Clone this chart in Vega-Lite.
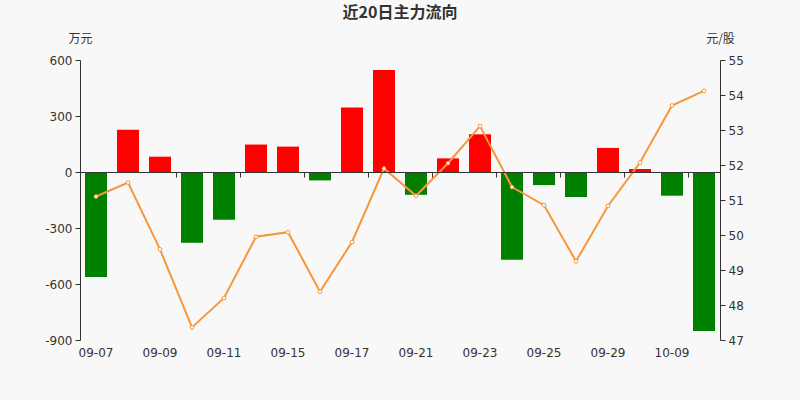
{
  "$schema": "https://vega.github.io/schema/vega-lite/v6.json",
  "width": 640,
  "height": 280,
  "autosize": {"type": "none"},
  "padding": {"left": 80, "top": 60, "right": 80, "bottom": 60},
  "background": "#f8f8f8",
  "title": {"text": "近20日主力流向", "font": "Noto Sans CJK SC", "fontSize": 16, "fontWeight": "bold", "color": "#333333", "anchor": "middle", "offset": 11},
  "config": {
    "view": {"stroke": null},
    "axis": {"labelFont": "DejaVu Sans", "labelFontSize": 12, "labelColor": "#333333", "domainColor": "#333333", "tickColor": "#333333", "grid": false, "titleFont": "Noto Sans CJK SC", "titleFontSize": 12, "titleFontWeight": "normal", "titleColor": "#333333"}
  },
  "data": {"values": [
    {"date": "09-07", "flow": -562, "price": 51.10},
    {"date": "09-08", "flow": 227, "price": 51.50},
    {"date": "09-09", "flow": 82, "price": 49.59},
    {"date": "09-10", "flow": -379, "price": 47.36},
    {"date": "09-11", "flow": -256, "price": 48.20},
    {"date": "09-14", "flow": 147, "price": 49.95},
    {"date": "09-15", "flow": 136, "price": 50.08},
    {"date": "09-16", "flow": -45, "price": 48.38},
    {"date": "09-17", "flow": 345, "price": 49.80},
    {"date": "09-18", "flow": 546, "price": 51.90},
    {"date": "09-21", "flow": -122, "price": 51.12},
    {"date": "09-22", "flow": 73, "price": 52.05},
    {"date": "09-23", "flow": 202, "price": 53.11},
    {"date": "09-24", "flow": -470, "price": 51.37},
    {"date": "09-25", "flow": -70, "price": 50.85},
    {"date": "09-28", "flow": -134, "price": 49.25},
    {"date": "09-29", "flow": 129, "price": 50.83},
    {"date": "09-30", "flow": 16, "price": 52.07},
    {"date": "10-09", "flow": -127, "price": 53.70},
    {"date": "10-10", "flow": -852, "price": 54.12}
  ]},
  "layer": [
    {
      "mark": {"type": "bar", "size": 22},
      "encoding": {
        "x": {"field": "date", "type": "ordinal", "sort": null, "scale": {"paddingInner": 0, "paddingOuter": 0},
          "axis": {"orient": "bottom", "title": null, "domain": false, "ticks": false, "labelAngle": 0, "labelPadding": 7,
            "labelExpr": "indexof(['09-07','09-09','09-11','09-15','09-17','09-21','09-23','09-25','09-29','10-09'], datum.value) >= 0 ? datum.value : ''"}},
        "y": {"field": "flow", "type": "quantitative", "scale": {"domain": [-900, 600], "nice": false, "zero": false},
          "axis": {"values": [-900, -600, -300, 0, 300, 600], "labelExpr": "'' + datum.value", "title": "万元", "titleAngle": 0, "titleAlign": "center", "titleBaseline": "middle", "titleX": 0, "titleY": -22, "tickSize": 5, "labelPadding": 3}},
        "color": {"condition": {"test": "datum.flow >= 0", "value": "#ff0000"}, "value": "#008000"}
      }
    },
    {
      "mark": {"type": "line", "color": "#f7963c", "strokeWidth": 2},
      "encoding": {
        "x": {"field": "date", "type": "ordinal", "sort": null, "scale": {"paddingInner": 0, "paddingOuter": 0},
          "axis": {"orient": "bottom", "title": null, "labels": false, "domain": true, "ticks": true, "tickSize": 5, "tickBand": "extent", "offset": -168, "zindex": 1,
            "tickOpacity": {"condition": {"test": "indexof(['09-09','09-11','09-15','09-17','09-21','09-23','09-25','09-29','10-09'], datum.value) >= 0", "value": 1}, "value": 0}}},
        "y": {"field": "price", "type": "quantitative", "scale": {"domain": [47, 55], "nice": false, "zero": false},
          "axis": {"orient": "right", "values": [47, 48, 49, 50, 51, 52, 53, 54, 55], "title": "元/股", "titleAngle": 0, "titleAlign": "center", "titleBaseline": "middle", "titleX": 0, "titleY": -22, "tickSize": 5, "labelPadding": 3}}
      }
    },
    {
      "mark": {"type": "point", "filled": true, "fill": "#ffffff", "stroke": "#f7963c", "strokeWidth": 1, "size": 14, "opacity": 1},
      "encoding": {
        "x": {"field": "date", "type": "ordinal", "sort": null, "scale": {"paddingInner": 0, "paddingOuter": 0}, "axis": null},
        "y": {"field": "price", "type": "quantitative", "scale": {"domain": [47, 55], "nice": false, "zero": false}, "axis": null}
      }
    }
  ],
  "resolve": {"scale": {"y": "independent"}, "axis": {"x": "independent", "y": "independent"}}
}
